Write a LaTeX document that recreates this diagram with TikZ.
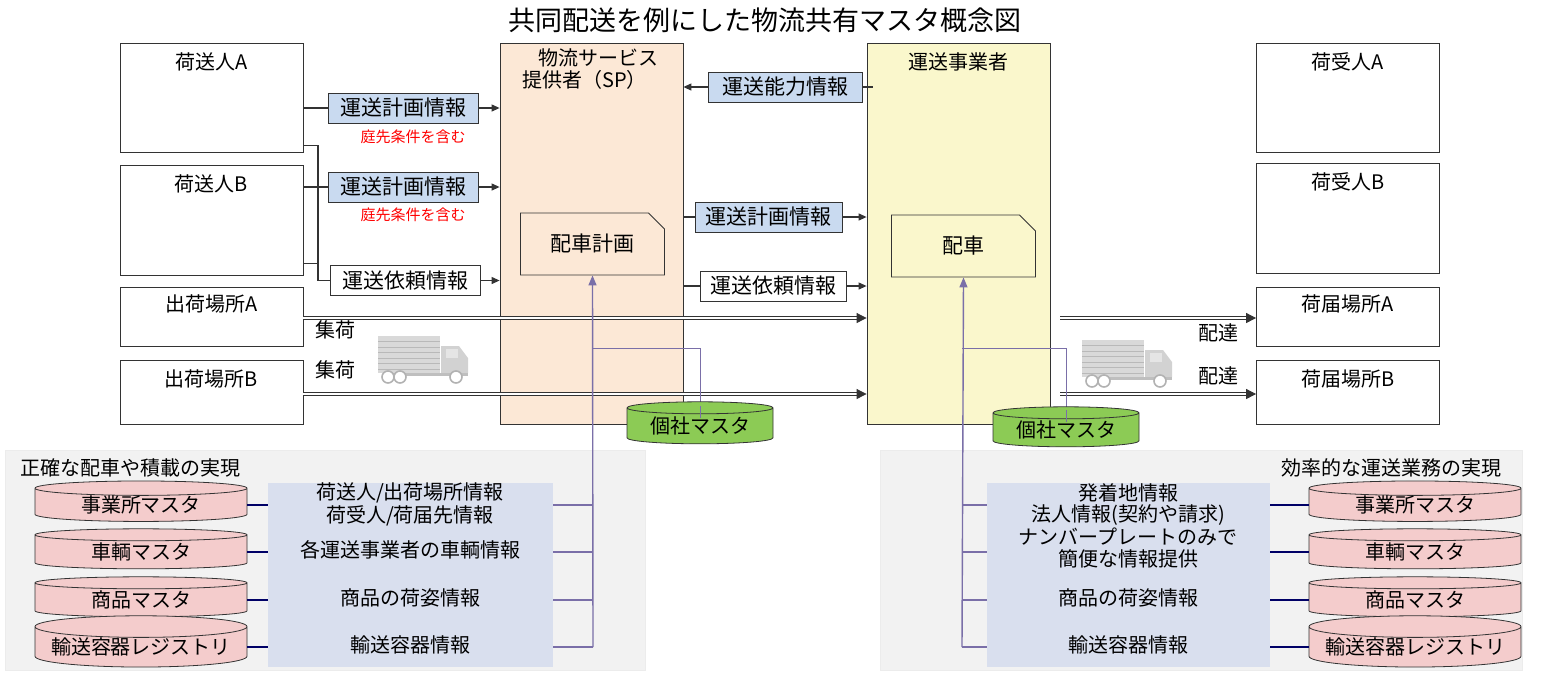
\documentclass[tikz,border=0pt]{standalone}
\usepackage{fontspec}
\setmainfont{Noto Sans CJK JP}
\usetikzlibrary{shapes.geometric,shapes.misc,arrows.meta}
\definecolor{spfill}{HTML}{FCE8D6}
\definecolor{crfill}{HTML}{FAF7CC}
\definecolor{infoblue}{HTML}{C9DAF0}
\definecolor{panelgray}{HTML}{F2F2F2}
\definecolor{infofill}{HTML}{D9DFEE}
\definecolor{pinkdb}{HTML}{F4CCCC}
\definecolor{greendb}{HTML}{8CCB55}
\definecolor{purp}{HTML}{7A6FA8}
\definecolor{edge}{HTML}{333333}
\tikzset{
  party/.style={draw=edge,fill=white,minimum width=91.5pt,inner sep=0pt},
  msg/.style={draw=edge,fill=infoblue,minimum width=75pt,minimum height=15pt,inner sep=0pt,font=\fontsize{10.5}{11}\selectfont},
  msgw/.style={msg,fill=white},
  note/.style={draw=edge,fill=white,chamfered rectangle,chamfered rectangle corners=north east,chamfered rectangle xsep=4pt,chamfered rectangle ysep=4pt,minimum width=72pt,minimum height=31pt,inner sep=0pt,font=\fontsize{10.5}{11}\selectfont},
  db/.style={draw=edge,cylinder,shape border rotate=90,aspect=0.12,minimum width=106pt,minimum height=20pt,inner sep=0pt,fill=pinkdb,font=\fontsize{10}{11}\selectfont},
  arr/.style={-{Triangle[length=4pt,width=3.5pt]},edge,line width=.6pt},
  flow/.style={edge,double,double distance=1.2pt,line width=.4pt,-{Triangle[length=5pt,width=5pt]}},
  lbl/.style={font=\fontsize{10}{11}\selectfont,inner sep=0pt},
  small/.style={font=\fontsize{7.5}{8}\selectfont,text=red,inner sep=0pt},
}
\newcommand{\truck}[2]{%
  \fill[gray!30] (#1,#2) rectangle ++(62,37);
  \foreach \k in {1,...,6} {\draw[gray!55,line width=.5pt] (#1,#2+\k*5.5) -- ++(62,0);}
  \fill[gray!35] (#1+63,#2+10) -- ++(18,0) -- ++(9,12) -- ++(0,15) -- ++(-27,0) -- cycle;
  \fill[gray!20] (#1+68,#2+13) rectangle ++(12,9);
  \fill[gray!50] (#1+10,#2+37) rectangle ++(80,3);
  \foreach \w in {10,22,78} {\draw[gray!60,fill=white,line width=.8pt] (#1+\w,#2+41) circle (3pt);}
}
\begin{document}
\begin{tikzpicture}[x=0.5pt,y=-0.5pt]
  \useasboundingbox (0,0) rectangle (1559,676);
  \node[font=\fontsize{13.5}{14}\selectfont] (title) at (765,20) {共同配送を例にした物流共有マスタ概念図};

  % bottom panels
  \fill[panelgray,draw=gray!15] (5,450) rectangle (645,670);
  \fill[panelgray,draw=gray!15] (880,450) rectangle (1522,670);
  \node[lbl,anchor=west] (goalL) at (20,468) {正確な配車や積載の実現};
  \node[lbl,anchor=east] (goalR) at (1502,468) {効率的な運送業務の実現};
  \node[fill=infofill,minimum width=142.5pt,minimum height=92pt,inner sep=0pt] (infoL) at (410.5,575) {};
  \node[fill=infofill,minimum width=141.5pt,minimum height=92pt,inner sep=0pt] (infoR) at (1128.5,575) {};

  % columns
  \node[draw=edge,fill=spfill,minimum width=91.5pt,minimum height=190.5pt,inner sep=0pt] (SP) at (591.5,233.5) {};
  \node[lbl,anchor=north west,align=left] (SPname) at (522,48) {\hspace*{0.8em}物流サービス\\提供者（SP）};
  \node[draw=edge,fill=crfill,minimum width=91.5pt,minimum height=190.5pt,inner sep=0pt,
        label={[lbl,anchor=north,yshift=-5pt]north:運送事業者}] (carrier) at (958.5,233.5) {};

  % shippers and receivers
  \node[party,minimum height=54.5pt,label={[lbl,anchor=north,yshift=-5pt]north:荷送人A}] (shipA) at (211.5,97.5) {};
  \node[party,minimum height=55pt,label={[lbl,anchor=north,yshift=-5pt]north:荷送人B}] (shipB) at (211.5,220) {};
  \node[party,minimum height=29.5pt,label={[lbl,anchor=north,yshift=-4pt]north:出荷場所A}] (srcA) at (211.5,316.5) {};
  \node[party,minimum height=32pt,label={[lbl,anchor=north,yshift=-5pt]north:出荷場所B}] (srcB) at (211.5,392) {};
  \node[party,minimum height=54.5pt,label={[lbl,anchor=north,yshift=-5pt]north:荷受人A}] (rcvA) at (1348,97.5) {};
  \node[party,minimum height=55pt,label={[lbl,anchor=north,yshift=-5pt]north:荷受人B}] (rcvB) at (1348,218) {};
  \node[party,minimum height=29.5pt,label={[lbl,anchor=north,yshift=-4pt]north:荷届場所A}] (dstA) at (1348,316.5) {};
  \node[party,minimum height=32pt,label={[lbl,anchor=north,yshift=-5pt]north:荷届場所B}] (dstB) at (1348,392) {};

  % messages shipper -> SP
  \node[msg] (planA) at (403,108) {運送計画情報};
  \node[small] (condA) at (413,137) {庭先条件を含む};
  \node[msg] (planB) at (403,187) {運送計画情報};
  \node[small] (condB) at (413,215) {庭先条件を含む};
  \node[msgw] (reqS) at (405,280.5) {運送依頼情報};
  \coordinate (bus) at (318,280.5);
  \draw[edge,line width=.6pt] (shipA.east |- planA) -- (planA.west);
  \draw[edge,line width=.6pt] (shipB.east |- planB) -- (planB.west);
  \draw[edge,line width=.6pt] ([yshift=3.5pt]shipA.south east) -| (bus) -- (reqS.west);
  \draw[edge,line width=.6pt] ([yshift=6pt]shipB.south east) -- ([yshift=6pt]shipB.south east -| bus);
  \draw[arr] (planA.east) -- (planA -| SP.west);
  \draw[arr] (planB.east) -- (planB -| SP.west);
  \draw[arr] (reqS.east) -- (reqS -| SP.west);

  % messages SP <-> carrier
  \node[msg,minimum width=77pt] (cap) at (785,87) {運送能力情報};
  \node[msg,minimum width=73.5pt] (planC) at (768.5,217) {運送計画情報};
  \node[msgw,minimum width=73pt] (reqC) at (773,286) {運送依頼情報};
  \draw[edge,line width=.6pt] ([xshift=3pt]carrier.west |- cap) -- (cap.east);
  \draw[arr] (cap.west) -- (cap -| SP.east);
  \draw[edge,line width=.6pt] (SP.east |- planC) -- (planC.west);
  \draw[arr] (planC.east) -- (planC -| carrier.west);
  \draw[edge,line width=.6pt] (SP.east |- reqC) -- (reqC.west);
  \draw[arr] (reqC.east) -- (reqC -| carrier.west);

  % dispatch notes
  \node[note,fill=spfill] (dplan) at (592.5,244) {配車計画};
  \node[note,fill=crfill] (disp) at (963.5,246) {配車};

  % goods flow
  \draw[flow] (srcA.east |- 0,318) -- (carrier.west |- 0,318);
  \draw[flow] (srcB.east |- 0,394) -- (carrier.west |- 0,394);
  \draw[flow] ([xshift=5pt]carrier.east |- 0,318) -- (dstA.west |- 0,318);
  \draw[flow] ([xshift=5pt]carrier.east |- 0,394) -- (dstB.west |- 0,394);
  \node[lbl] (pick1) at (335,330) {集荷};
  \node[lbl] (pick2) at (335,370) {集荷};
  \node[lbl] (del1) at (1218,333) {配達};
  \node[lbl] (del2) at (1218,376) {配達};
  \truck{378}{336}
  \truck{1082}{340}

  % company masters
  \coordinate (jl) at (593,647);
  \coordinate (jr) at (962,647);
  \draw[purp,line width=.4pt] (593,348) -| (700,422);
  \draw[purp,line width=.4pt] (962,348) -| (1066,425);
  \node[db,fill=greendb,minimum width=73pt,minimum height=21pt] (gmL) at (700,426) {個社マスタ};
  \node[db,fill=greendb,minimum width=73pt,minimum height=20pt] (gmR) at (1066,430) {個社マスタ};
  \draw[purp,line width=.4pt] (700,406) -- (700,418);
  \draw[purp,line width=.4pt] (1066,410) -- (1066,422);
  \draw[purp,line width=.7pt,-{Triangle[length=5pt,width=4pt]}] (jl) -- (dplan.south);
  \draw[purp,line width=.7pt,-{Triangle[length=5pt,width=4pt]}] (jr) -- (disp.south);

  % left masters
  \node[lbl] (iL1) at (410,493) {荷送人/出荷場所情報};
  \node[lbl] (iL2) at (410,516) {荷受人/荷届先情報};
  \node[lbl] (iL3) at (410,550) {各運送事業者の車輌情報};
  \node[lbl] (iL4) at (410,598) {商品の荷姿情報};
  \node[lbl] (iL5) at (410,645) {輸送容器情報};
  \node[db] (dbL1) at (141,505) {事業所マスタ};
  \node[db] (dbL2) at (141,552) {車輌マスタ};
  \node[db] (dbL3) at (141,600) {商品マスタ};
  \node[db] (dbL4) at (141,647) {輸送容器レジストリ};
  \foreach \d in {dbL1,dbL2,dbL3,dbL4} {
    \draw[blue!40!black,line width=.6pt] (\d.east) -- (\d.east -| infoL.west);
    \draw[purp,line width=.6pt] (\d.east -| infoL.east) -- (\d.east -| jl);
  }

  % right masters
  \node[lbl] (iR1) at (1128,493) {発着地情報};
  \node[lbl] (iR2) at (1128,515) {法人情報(契約や請求)};
  \node[lbl] (iR3) at (1128,537) {ナンバープレートのみで};
  \node[lbl] (iR4) at (1128,559) {簡便な情報提供};
  \node[lbl] (iR5) at (1128,598) {商品の荷姿情報};
  \node[lbl] (iR6) at (1128,645) {輸送容器情報};
  \node[db] (dbR1) at (1415,505) {事業所マスタ};
  \node[db] (dbR2) at (1415,552) {車輌マスタ};
  \node[db] (dbR3) at (1415,600) {商品マスタ};
  \node[db] (dbR4) at (1415,647) {輸送容器レジストリ};
  \foreach \d in {dbR1,dbR2,dbR3,dbR4} {
    \draw[blue!40!black,line width=.6pt] (\d.west) -- (\d.west -| infoR.east);
    \draw[purp,line width=.6pt] (\d.west -| infoR.west) -- (\d.west -| jr);
  }
\end{tikzpicture}
\end{document}
